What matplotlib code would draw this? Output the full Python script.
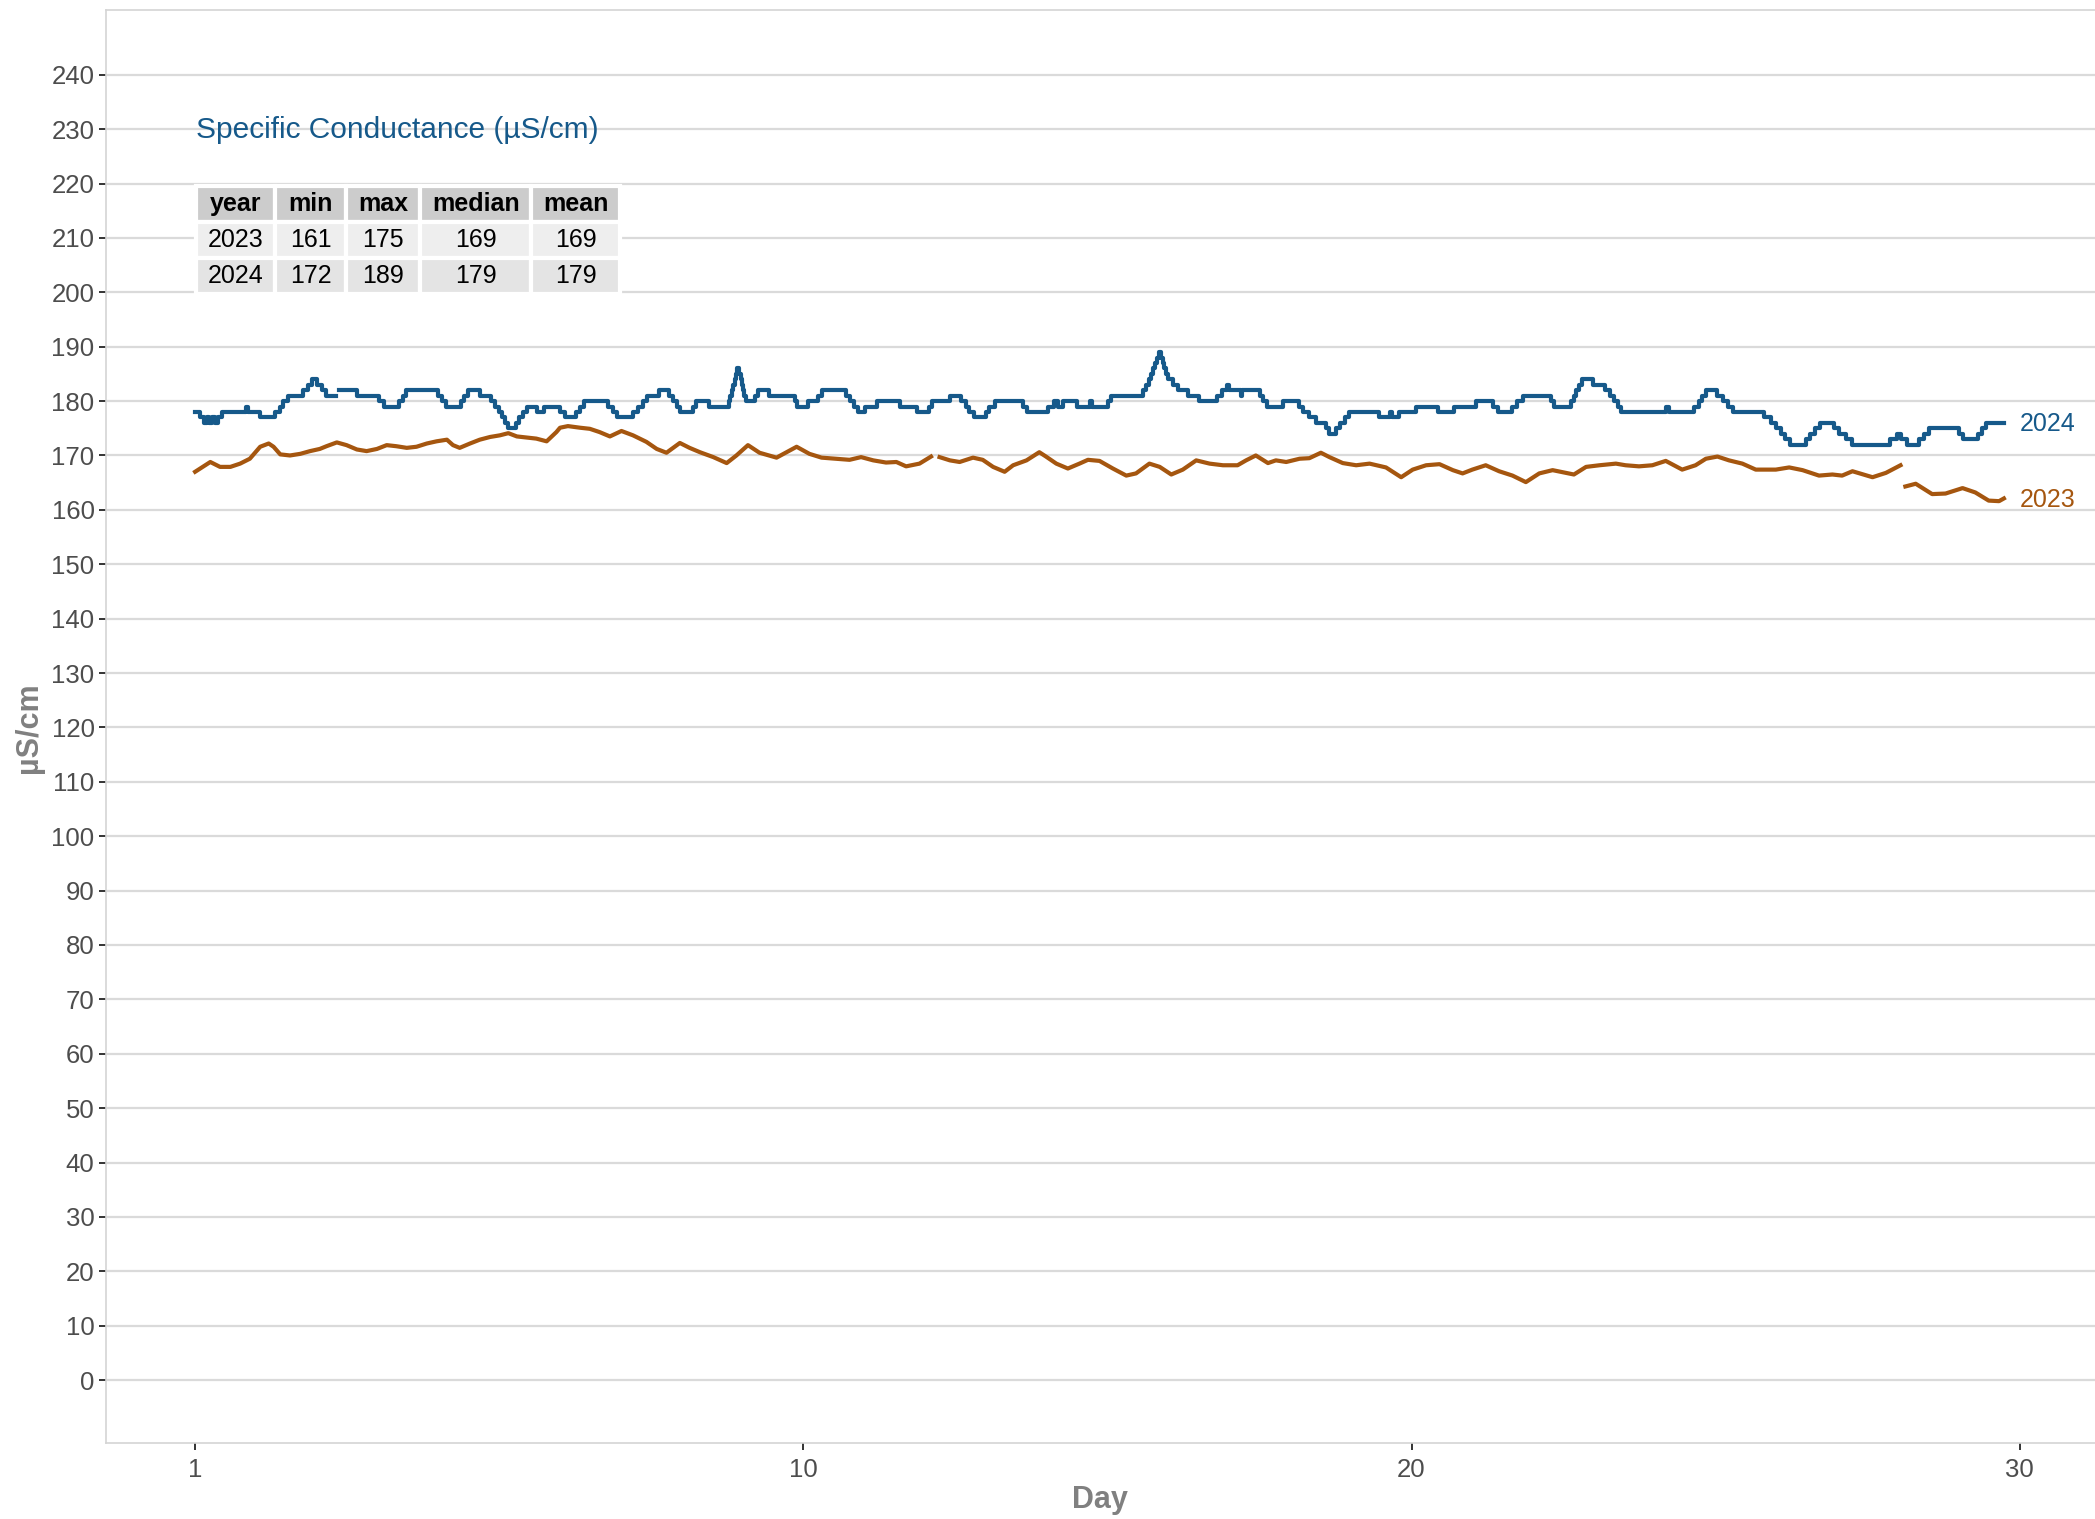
import numpy as np
import matplotlib
matplotlib.use('Agg')
import matplotlib.pyplot as plt

plt.rcParams['font.family'] = ['Liberation Sans', 'DejaVu Sans']

# ---------------------------------------------------------------------------
# data (x = days since start of month, tick "1" = 0)
# 2024: integer readings, stored as step change points (NaN = gap)
# ---------------------------------------------------------------------------
day_2024 = [0.00, 0.08, 0.14, 0.20, 0.23, 0.28, 0.32, 0.37, 0.44, 0.84, 0.87,
            1.07, 1.31, 1.39, 1.45, 1.52, 1.78, 1.85, 1.92, 2.01, 2.08, 2.15,
            2.32, 2.36, 2.67, 3.03, 3.10, 3.35, 3.41, 3.47, 3.99, 4.06, 4.13,
            4.37, 4.42, 4.49, 4.68, 4.87, 4.93, 4.99, 5.04, 5.10, 5.15, 5.27,
            5.33, 5.39, 5.46, 5.62, 5.73, 6.00, 6.08,
            6.27, 6.33, 6.39, 6.79, 6.87, 6.94, 7.20, 7.28, 7.37, 7.43, 7.63,
            7.79, 7.86, 7.93, 7.98, 8.18, 8.23, 8.45,
            8.78, 8.80, 8.82, 8.85, 8.87, 8.89, 8.91, 8.94, 8.97, 8.99, 9.01,
            9.03, 9.05, 9.20, 9.26, 9.44, 9.86, 9.90, 10.08, 10.24, 10.31,
            10.70, 10.76, 10.83, 10.90, 11.02, 11.21, 11.59, 11.87, 12.07,
            12.12,
            12.42, 12.60, 12.68, 12.73, 12.80, 13.00, 13.06, 13.15, 13.61,
            13.68, 14.02, 14.13, 14.19, 14.27, 14.50, 14.71, 14.75, 15.01,
            15.06, 15.59,
            15.64, 15.68, 15.71, 15.75, 15.79, 15.82, 15.85, 15.88, 15.91,
            15.93, 15.97, 16.00, 16.08, 16.16, 16.32, 16.51, 16.81, 16.89,
            16.96, 17.00, 17.19, 17.21, 17.51, 17.56, 17.62, 17.89, 18.15,
            18.22, 18.32, 18.43,
            18.60, 18.65, 18.76, 18.83, 18.90, 18.98, 19.46, 19.65, 19.68,
            19.79, 20.07, 20.43, 20.70, 21.06, 21.34, 21.42, 21.66, 21.74,
            21.83, 22.29, 22.35, 22.62, 22.67, 22.71, 22.76, 22.80, 22.99,
            23.18, 23.26, 23.33, 23.39, 23.44, 24.19, 24.24, 24.65, 24.72,
            24.78, 24.85,
            25.03, 25.12, 25.21, 25.28, 25.80, 25.91, 25.99, 26.07, 26.14,
            26.22, 26.49, 26.56, 26.64, 26.71, 26.95, 27.03, 27.14, 27.25,
            27.86, 27.99, 28.04, 28.15, 28.34, 28.43, 28.51, 29.00, 29.07,
            29.32, 29.38, 29.45, 29.74]
sc_2024 = [178, 177, 176, 177, 176, 177, 176, 177, 178, 179, 178,
           177, 178, 179, 180, 181, 182, 183, 184, 183, 182, 181,
           np.nan, 182, 181, 180, 179, 180, 181, 182, 181, 180, 179,
           180, 181, 182, 181, 180, 179, 178, 177, 176, 175, 176,
           177, 178, 179, 178, 179, 178, 177,
           178, 179, 180, 179, 178, 177, 178, 179, 180, 181, 182,
           181, 180, 179, 178, 179, 180, 179,
           180, 181, 182, 183, 184, 185, 186, 185, 184, 183, 182,
           181, 180, 181, 182, 181, 180, 179, 180, 181, 182,
           181, 180, 179, 178, 179, 180, 179, 178, 179,
           180,
           181, 180, 179, 178, 177, 178, 179, 180, 179,
           178, 179, 180, 179, 180, 179, 180, 179, 180,
           181, 182,
           183, 184, 185, 186, 187, 188, 189, 188, 187,
           186, 185, 184, 183, 182, 181, 180, 181, 182,
           183, 182, 181, 182, 181, 180, 179, 180, 179,
           178, 177, 176,
           175, 174, 175, 176, 177, 178, 177, 178, 177,
           178, 179, 178, 179, 180, 179, 178, 179, 180,
           181, 180, 179, 180, 181, 182, 183, 184, 183,
           182, 181, 180, 179, 178, 179, 178, 179, 180,
           181, 182,
           181, 180, 179, 178, 177, 176, 175, 174, 173,
           172, 173, 174, 175, 176, 175, 174, 173, 172,
           173, 174, 173, 172, 173, 174, 175, 174, 173,
           174, 175, 176, 176]

# 2023: smoother record (NaN = gap)
day_2023 = [0.00, 0.25, 0.41, 0.58, 0.74, 0.90, 1.07, 1.21, 1.29, 1.40, 1.56,
            1.73, 1.89, 2.05, 2.16, 2.33, 2.49, 2.66, 2.82, 2.99, 3.15, 3.31,
            3.48, 3.64, 3.81, 3.97, 4.14, 4.24, 4.35, 4.52, 4.68, 4.85, 5.01,
            5.15, 5.29, 5.45, 5.61, 5.78, 5.94, 6.00, 6.13,
            6.33, 6.49, 6.65, 6.82, 7.01, 7.20, 7.42, 7.59, 7.75, 7.97, 8.13,
            8.30, 8.52, 8.74, 8.90, 9.09, 9.28, 9.56, 9.89, 10.10, 10.30,
            10.54, 10.76, 10.95, 11.15, 11.36, 11.53, 11.69, 11.91, 12.10,
            12.13, 12.24,
            12.41, 12.57, 12.79, 12.95, 13.12, 13.31, 13.45, 13.67, 13.88,
            13.99, 14.16, 14.35, 14.54, 14.68, 14.87, 15.09, 15.31, 15.47,
            15.69, 15.86, 16.05, 16.24, 16.46, 16.68, 16.90, 17.14, 17.28,
            17.44, 17.64, 17.77, 17.94, 18.16, 18.32, 18.51,
            18.65, 18.87, 19.09, 19.31, 19.58, 19.83, 20.02, 20.24, 20.46,
            20.68, 20.84, 21.00, 21.22, 21.44, 21.66, 21.88, 22.10, 22.32,
            22.54, 22.67, 22.87, 23.09, 23.36, 23.52, 23.74, 23.96, 24.18,
            24.45, 24.67, 24.84,
            25.03, 25.22, 25.44, 25.66, 25.99, 26.21, 26.43, 26.70, 26.92,
            27.08, 27.25, 27.58, 27.80, 28.04, 28.08, 28.12, 28.29, 28.56,
            28.78, 29.06, 29.27, 29.49, 29.66, 29.74]
sc_2023 = [167.0, 168.8, 167.9, 167.9, 168.5, 169.4, 171.6, 172.2, 171.6,
           170.2, 170.0, 170.3, 170.8, 171.2, 171.7, 172.4, 171.9, 171.1,
           170.8, 171.2, 171.9, 171.7, 171.4, 171.6, 172.2, 172.6, 172.9,
           171.9, 171.4, 172.2, 172.9, 173.4, 173.7, 174.1, 173.5, 173.3,
           173.1, 172.6, 174.3, 175.1, 175.4,
           175.1, 174.9, 174.3, 173.5, 174.5, 173.7, 172.5, 171.2, 170.5,
           172.3, 171.4, 170.6, 169.7, 168.6, 170.0, 171.9, 170.5, 169.6,
           171.6, 170.3, 169.6, 169.4, 169.2, 169.7, 169.1, 168.7, 168.8,
           168.0, 168.5, 169.8, np.nan, 169.7,
           169.1, 168.8, 169.6, 169.2, 167.9, 167.0, 168.2, 169.1, 170.6,
           169.8, 168.5, 167.6, 168.5, 169.2, 169.0, 167.6, 166.3, 166.7,
           168.5, 167.9, 166.5, 167.4, 169.1, 168.5, 168.2, 168.2, 169.1,
           170.0, 168.6, 169.1, 168.8, 169.4, 169.5, 170.5,
           169.7, 168.6, 168.2, 168.5, 167.8, 166.0, 167.4, 168.2, 168.4,
           167.3, 166.7, 167.4, 168.2, 167.1, 166.3, 165.1, 166.7, 167.3,
           166.8, 166.5, 167.9, 168.2, 168.5, 168.2, 168.0, 168.2, 169.0,
           167.4, 168.2, 169.4,
           169.8, 169.1, 168.5, 167.4, 167.4, 167.8, 167.3, 166.3, 166.5,
           166.3, 167.1, 166.0, 166.8, 168.2, np.nan, 164.3, 164.8, 162.9,
           163.0, 164.0, 163.2, 161.7, 161.6, 162.1]

# summary table shown in the chart
table_header = ['year', 'min', 'max', 'median', 'mean']
table_body = [['2023', '161', '175', '169', '169'],
              ['2024', '172', '189', '179', '179']]

x_ticks = [0, 10, 20, 30]
x_ticklabels = ['1', '10', '20', '30']
y_ticks = list(range(0, 250, 10))

BLUE = '#16598a'
ORANGE = '#a5560f'

# ---------------------------------------------------------------------------
W, H = 2095, 1519
fig = plt.figure(figsize=(W / 100, H / 100), dpi=100)
fig.patch.set_facecolor('white')

# panel in pixel units
pl, pr, pt, pb = 105.7, 2100, 10, 1443
ax = fig.add_axes([pl / W, 1 - pb / H, (pr - pl) / W, (pb - pt) / H])

ax.plot(day_2023, sc_2023, color=ORANGE, lw=3.0, solid_joinstyle='round')
ax.plot(day_2024, sc_2024, color=BLUE, lw=3.0, drawstyle='steps-post')

ax.text(30.0, 175.7, '2024', color=BLUE, fontsize=18, va='center',
        ha='left', clip_on=False)
ax.text(30.0, 161.8, '2023', color=ORANGE, fontsize=18, va='center',
        ha='left', clip_on=False)

ax.set_xlim(-1.47, 31.32)
ax.set_ylim(-11.56, 251.9)
ax.set_xticks(x_ticks)
ax.set_xticklabels(x_ticklabels)
ax.set_yticks(y_ticks)
ax.yaxis.grid(True, color='#dadada', lw=1.6)
ax.xaxis.grid(False)
ax.set_axisbelow(True)
ax.tick_params(length=5, width=1.4, color='#333333', labelcolor='#4d4d4d',
               labelsize=18.5, pad=3)
ax.tick_params(axis='x', pad=6)
for side in ['left', 'bottom', 'top']:
    ax.spines[side].set_color('#d4d4d4')
    ax.spines[side].set_linewidth(1.2)
ax.spines['right'].set_visible(False)

# title and summary table
fig.text(196 / W, 1 - 130 / H, 'Specific Conductance (µS/cm)', color=BLUE,
         fontsize=21.5, va='center', ha='left')

aw, ah = pr - pl, pb - pt
tx0, tx1, ty0, ty1 = 196, 620, 186, 294
tbl = ax.table(cellText=table_body, colLabels=table_header,
               colWidths=[77, 69, 72, 108, 86], cellLoc='center',
               bbox=[(tx0 - pl) / aw, (pb - ty1) / ah,
                     (tx1 - tx0) / aw, (ty1 - ty0) / ah])
tbl.set_zorder(5)
tbl.auto_set_font_size(False)
tbl.set_fontsize(18)
row_fill = {0: '#cccccc', 1: '#eeeeee', 2: '#e4e4e4'}
for (r, c), cell in tbl.get_celld().items():
    cell.set_facecolor(row_fill[r])
    cell.set_edgecolor('white')
    cell.set_linewidth(3)
    cell.get_text().set_color('black')
    if r == 0:
        cell.get_text().set_fontweight('bold')

# axis titles
fig.text(1100 / W, 1 - 1500 / H, 'Day', color='#808080', fontsize=22,
         fontweight='bold', ha='center', va='center')
fig.text(29 / W, 1 - 728 / H, 'µS/cm', color='#808080', fontsize=22,
         fontweight='bold', ha='center', va='center', rotation=90)

fig.savefig('out.png', dpi=100, facecolor='white')
